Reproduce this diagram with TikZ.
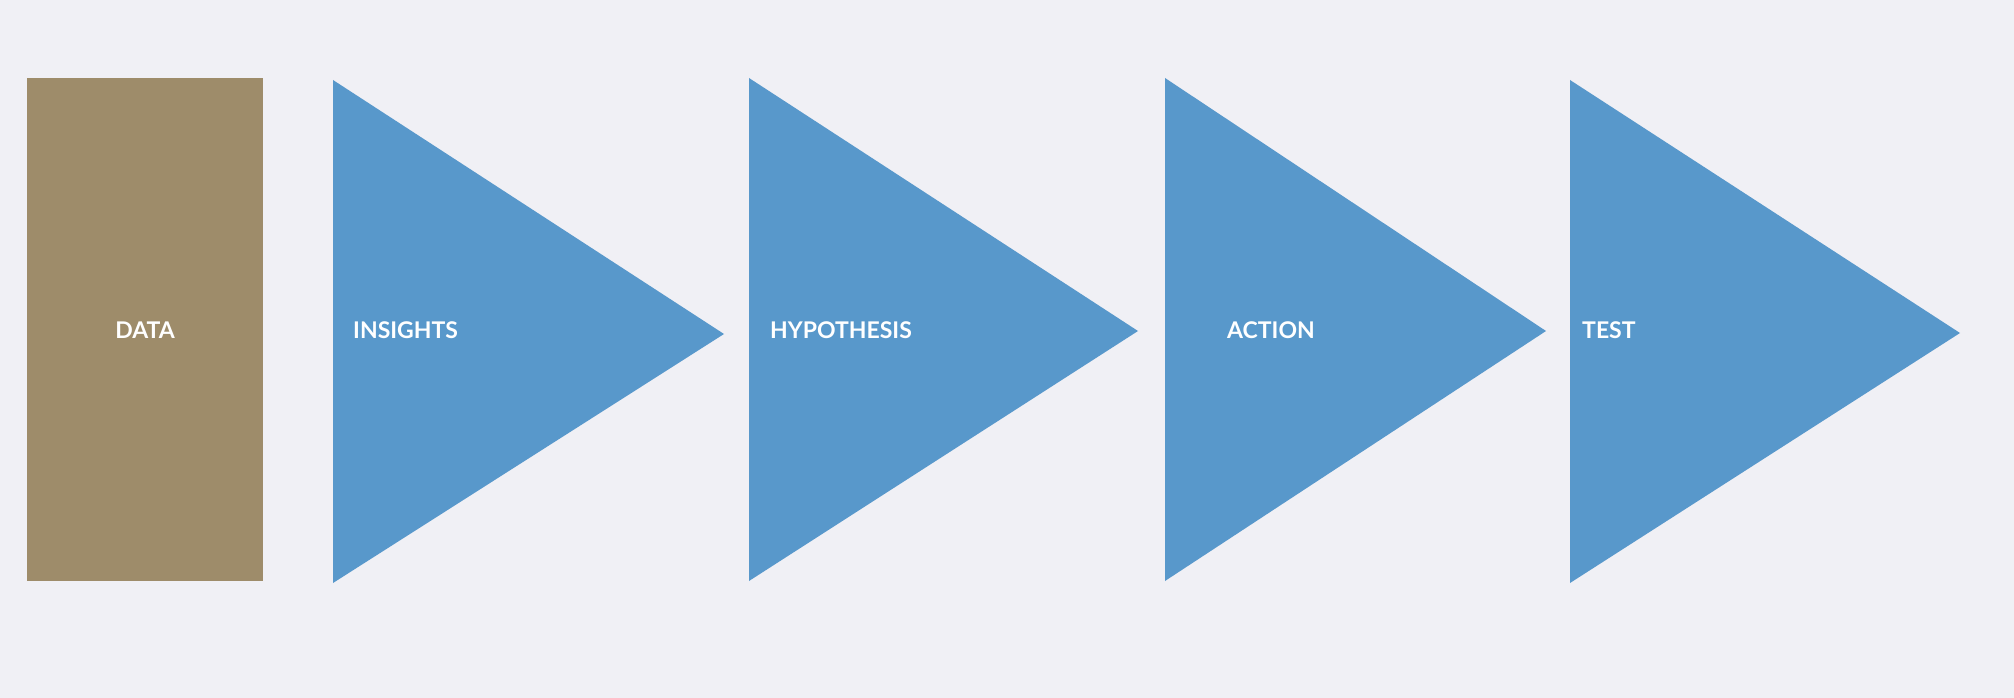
\documentclass[tikz,border=0pt]{standalone}
\usepackage{fontspec}
\setmainfont{Lato}
\definecolor{bgcol}{HTML}{F0F0F5}
\definecolor{datacol}{HTML}{9E8C6A}
\definecolor{stepcol}{HTML}{5898CB}
\begin{document}
\begin{tikzpicture}[x=1pt,y=-1pt,
  lbl/.style={anchor=west,text=white,font=\bfseries\fontsize{23}{26}\selectfont,inner sep=0}]
\fill[bgcol] (0,0) rectangle (2014,698);
\useasboundingbox (0,0) rectangle (2014,698);
\fill[datacol] (27,78) rectangle (263,581);
\node[anchor=center,text=white,font=\bfseries\fontsize{23}{26}\selectfont,inner sep=0] (data) at (145,330) {DATA};
\fill[stepcol] (333,80) -- (333,583) -- (724,334) -- cycle;
\node[lbl] (insights) at (353,330) {INSIGHTS};
\fill[stepcol] (749,78) -- (749,581) -- (1138,331) -- cycle;
\node[lbl] (hypothesis) at (770,330) {HYPOTHESIS};
\fill[stepcol] (1165,78) -- (1165,581) -- (1546,331) -- cycle;
\node[lbl] (action) at (1227,330) {ACTION};
\fill[stepcol] (1570,80) -- (1570,583) -- (1960,333) -- cycle;
\node[lbl] (test) at (1582,330) {TEST};
\end{tikzpicture}
\end{document}
